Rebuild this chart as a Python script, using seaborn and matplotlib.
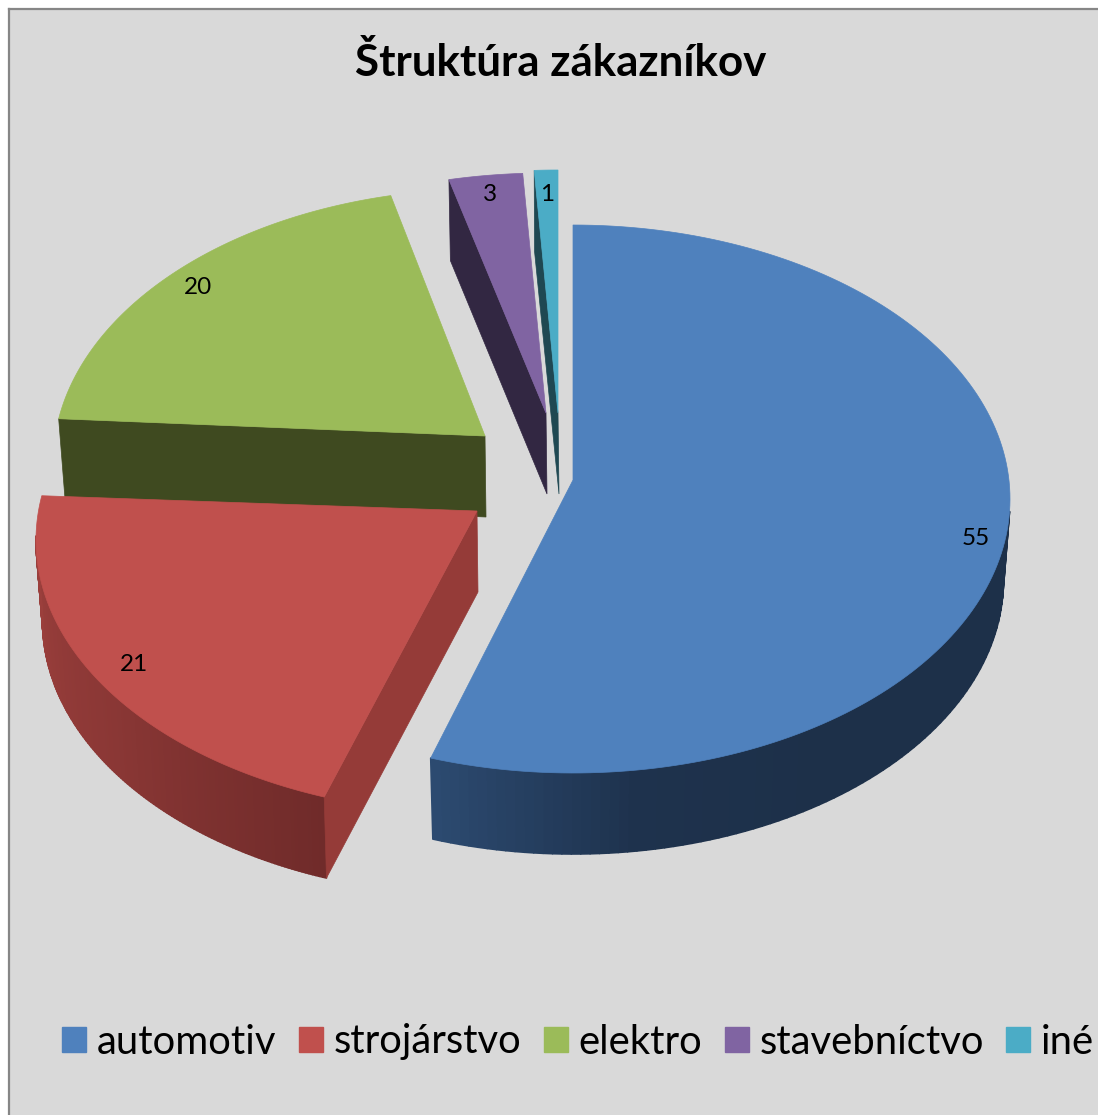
import numpy as np
import matplotlib
matplotlib.use("Agg")
import matplotlib.pyplot as plt
import seaborn as sns
from matplotlib.collections import PolyCollection
from matplotlib.patches import Patch, Polygon

# Chart data
categories = ["automotiv", "strojárstvo", "elektro", "stavebníctvo", "iné"]
shares = [55, 21, 20, 3, 1]
chart_title = "Štruktúra zákazníkov"

# Colours per slice: top, cut face, rim gradient
top_colors = ["#4F81BD", "#C0504D", "#9BBB59", "#8064A2", "#4BACC6"]
cut_colors = [None, "#953B38", "#3F4A20", "#322742", "#1F4852"]
rim_colors = [["#1D3049", "#1D3049", "#1D3049", "#1E324D", "#2C4A70"],
              ["#702B2A", "#8A3735", "#9B3F3C"], None, None, None]

# Exploded 3D look: apex of each slice in pixels, ellipse centre below apex, radius
apex_x = [573, 477, 485, 546, 558]
apex_y = [480, 511, 436, 413, 413]
center_drop = [19, 29, 27, 34, 31]
radius_x = [437, 441, 432, 445, 455]
radius_y = 274
depth = 81
bottom_shrink = 0.985
label_radius = [0.935, 0.905, 0.915, 0.92, 0.90]
label_shift = -3
# Perspective stretches the slices a bit, this maps pie angle to ellipse angle
warp_from = [0, 198, 273.6, 345.6, 356.4, 360]
warp_to = [0, 199, 279.3, 347.4, 357, 360]
start_nudge = [0, 1.2, 0, 0, 0]
# Part of the rim that faces the viewer, in pie angles
rim_from = [91, 0, 0, 0, 0]
rim_to = [360, 266, 0, 0, 0]

sns.set_theme(style="white")
plt.rcParams["font.family"] = ["Lato", "DejaVu Sans"]

fig = plt.figure(figsize=(10.98, 11.15), dpi=100, facecolor="white")
ax = fig.add_axes([9 / 1098, 0, 1 - 9 / 1098, 1 - 9 / 1115])
ax.set_facecolor("#D9D9D9")
ax.set_xlim(9, 1098)
ax.set_ylim(1115, 9)
ax.set_xticks([])
ax.set_yticks([])
sns.despine(ax=ax, top=False, left=False, right=True, bottom=True)
for side in ["left", "top"]:
    ax.spines[side].set_color("#868686")
    ax.spines[side].set_linewidth(1.6)


def rim_point(i, angle, lower=False):
    t = np.radians(np.interp(angle, warp_from, warp_to))
    cy = apex_y[i] + center_drop[i]
    scale = bottom_shrink if lower else 1.0
    x = apex_x[i] + radius_x[i] * scale * np.sin(t)
    y = cy - radius_y * np.cos(t) + (depth if lower else 0)
    return x, y


edges = np.concatenate([[0], np.cumsum(shares)]) / sum(shares) * 360

# back slices first so the front ones cover them
for i in [3, 4, 2, 1, 0]:
    start, end = edges[i] + start_nudge[i], edges[i + 1]
    angles = np.linspace(start, end, 160)
    top_x, top_y = rim_point(i, angles)
    low_x, low_y = rim_point(i, angles, lower=True)
    ax_, ay_ = apex_x[i], apex_y[i]

    if rim_colors[i] is not None:
        visible = (angles > rim_from[i]) & (angles < rim_to[i])
        xs_t, ys_t, xs_l, ys_l = top_x[visible], top_y[visible], low_x[visible], low_y[visible]
        quads = [[(xs_t[k], ys_t[k]), (xs_t[k + 1], ys_t[k + 1]), (xs_l[k + 1], ys_l[k + 1]), (xs_l[k], ys_l[k])]
                 for k in range(len(xs_t) - 1)]
        shades = sns.blend_palette(rim_colors[i], len(quads))
        ax.add_collection(PolyCollection(quads, facecolors=shades, edgecolors=shades, linewidths=1.2))

    if cut_colors[i] is not None:
        cut = [(top_x[0], top_y[0]), (ax_, ay_), (ax_ + 1, ay_ + depth), (low_x[0], low_y[0])]
        ax.add_patch(Polygon(cut, closed=True, facecolor=cut_colors[i], edgecolor=cut_colors[i], linewidth=0.5))

    outline = [(ax_, ay_)] + list(zip(top_x, top_y))
    ax.add_patch(Polygon(outline, closed=True, facecolor=top_colors[i], edgecolor=top_colors[i], linewidth=0.5))

    mid = (edges[i] + edges[i + 1]) / 2
    t = np.radians(np.interp(mid, warp_from, warp_to))
    lx = ax_ + radius_x[i] * label_radius[i] * np.sin(t)
    ly = ay_ + center_drop[i] - radius_y * label_radius[i] * np.cos(t) + label_shift
    ax.text(lx, ly, str(shares[i]), ha="center", va="center", fontsize=17.5, color="black")

ax.text(561, 62, chart_title, ha="center", va="center", fontsize=31.7, fontweight="bold", color="black")

handles = [Patch(facecolor=c, edgecolor=c) for c in top_colors]
ax.legend(handles, categories, ncol=5, frameon=False, fontsize=28.8,
          loc="center left", bbox_to_anchor=(53 / 1089, 1 - 1033 / 1106),
          handlelength=0.6, handleheight=0.6, handletextpad=0.27, columnspacing=0.56,
          borderpad=0, borderaxespad=0, labelcolor="black")

fig.savefig("out.png", dpi=100)
